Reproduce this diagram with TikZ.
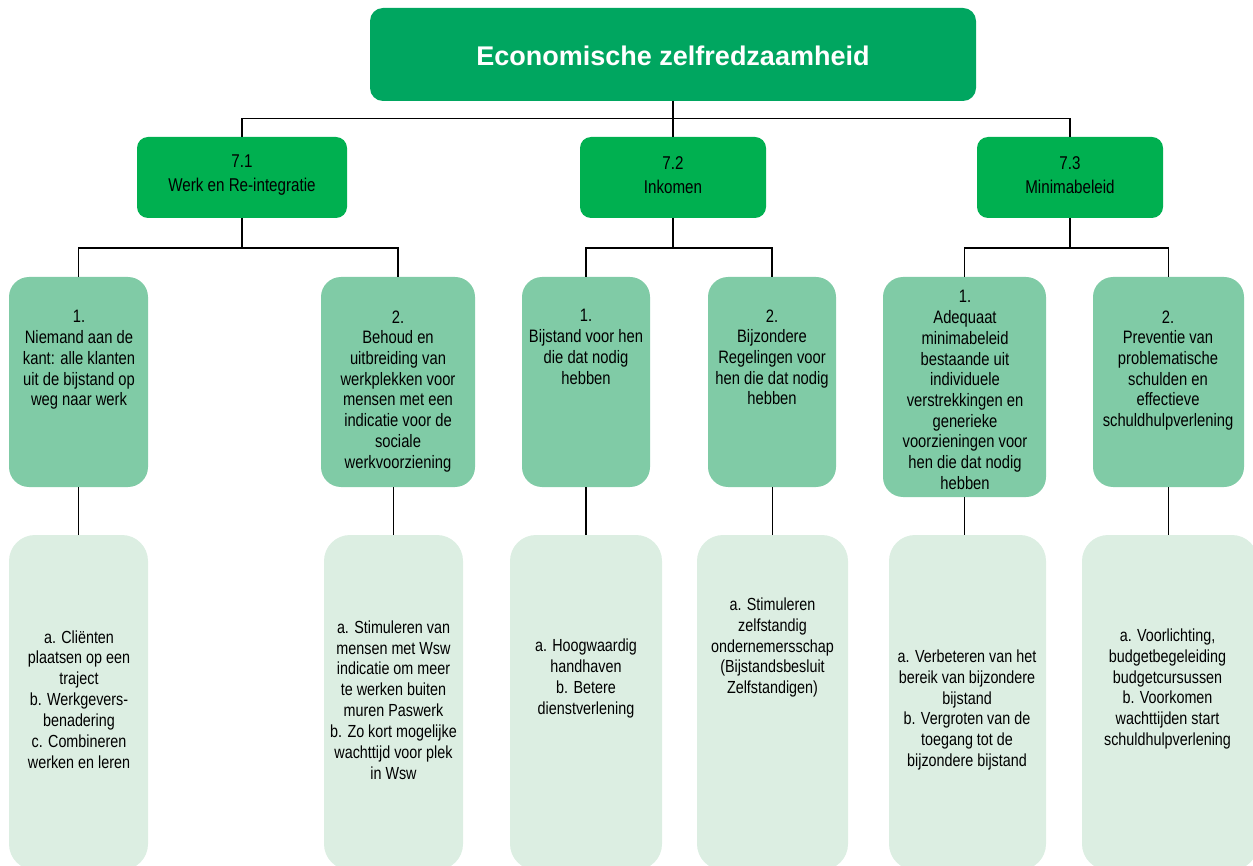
\documentclass[tikz,border=0pt]{standalone}
\usepackage{fontspec}
\setmainfont{Liberation Sans}
\newfontfamily\narrowfont{Liberation Sans}[FakeStretch=0.82]
\definecolor{topgreen}{RGB}{0,166,96}
\definecolor{midgreen}{RGB}{0,176,80}
\definecolor{lightgreen}{RGB}{128,203,166}
\definecolor{palegreen}{RGB}{220,238,226}
\begin{document}
\begin{tikzpicture}[x=1pt,y=-1pt,line width=1.2pt,
  boxbase/.style={inner sep=0pt,outer sep=0pt,draw=none},
  topbox/.style={boxbase,fill=topgreen,rounded corners=13pt,minimum width=606pt,minimum height=93pt},
  lvltwo/.style={boxbase,fill=midgreen,rounded corners=11pt,minimum height=81pt},
  lvlthree/.style={boxbase,fill=lightgreen,rounded corners=20pt},
  lvlfour/.style={boxbase,fill=palegreen,rounded corners=26pt,minimum height=335pt},
  titletext/.style={inner sep=0pt,text=white,font=\bfseries\fontsize{27}{30}\selectfont},
  twotext/.style={inner sep=0pt,align=center,font=\narrowfont\fontsize{18.5}{24}\selectfont},
  threetext/.style={inner sep=0pt,align=center,anchor=north,font=\narrowfont\fontsize{18}{20.7}\selectfont},
  fourtext/.style={inner sep=0pt,align=center,font=\narrowfont\fontsize{17.5}{20.9}\selectfont},
  conn/.style={draw=black,line width=1.2pt}]
\useasboundingbox (0,0) rectangle (1253,866);
\clip (0,0) rectangle (1253,866);
% top
\node[topbox] (top) at (673,54.5) {};
\node[titletext] (toptxt) at (673,56) {Economische zelfredzaamheid};
% level 2
\node[lvltwo,minimum width=210pt] (a1) at (242,177.5) {};
\node[lvltwo,minimum width=186pt] (a2) at (673,177.5) {};
\node[lvltwo,minimum width=186pt] (a3) at (1070,177.5) {};
\node[twotext] (a1t) at (242,175) {7.1\\Werk en Re-integratie};
\node[twotext] (a2t) at (673,175) {7.2\\Inkomen};
\node[twotext] (a3t) at (1070,175) {7.3\\Minimabeleid};
% level 3
\node[lvlthree,minimum width=139pt,minimum height=210pt] (b1) at (78.5,382) {};
\node[lvlthree,minimum width=154pt,minimum height=210pt] (b2) at (398,382) {};
\node[lvlthree,minimum width=128pt,minimum height=210pt] (b3) at (586,382) {};
\node[lvlthree,minimum width=128pt,minimum height=210pt] (b4) at (772,382) {};
\node[lvlthree,minimum width=163pt,minimum height=220pt] (b5) at (964.5,387) {};
\node[lvlthree,minimum width=151pt,minimum height=210pt] (b6) at (1168.5,382) {};
\node[threetext] (b1t) at (79,310) {1.\\Niemand aan de\\kant: alle klanten\\uit de bijstand op\\weg naar werk};
\node[threetext] (b2t) at (398,310) {2.\\Behoud en\\uitbreiding van\\werkplekken voor\\mensen met een\\indicatie voor de\\sociale\\werkvoorziening};
\node[threetext] (b3t) at (586,309) {1.\\Bijstand voor hen\\die dat nodig\\hebben};
\node[threetext] (b4t) at (772,309) {2.\\Bijzondere\\Regelingen voor\\hen die dat nodig\\hebben};
\node[threetext] (b5t) at (965,290) {1.\\Adequaat\\minimabeleid\\bestaande uit\\individuele\\verstrekkingen en\\generieke\\voorzieningen voor\\hen die dat nodig\\hebben};
\node[threetext] (b6t) at (1168,310) {2.\\Preventie van\\problematische\\schulden en\\effectieve\\schuldhulpverlening};
% level 4
\node[lvlfour,minimum width=139pt] (c1) at (78.5,702.5) {};
\node[lvlfour,minimum width=139pt] (c2) at (393.5,702.5) {};
\node[lvlfour,minimum width=152pt] (c3) at (586,702.5) {};
\node[lvlfour,minimum width=151pt] (c4) at (772.5,702.5) {};
\node[lvlfour,minimum width=157pt] (c5) at (967.5,702.5) {};
\node[lvlfour,minimum width=176pt] (c6) at (1170,702.5) {};
\node[fourtext] (c1t) at (79,699.5) {a. Cliënten\\plaatsen op een\\traject\\b. Werkgevers-\\benadering\\c. Combineren\\werken en leren};
\node[fourtext] (c2t) at (393.5,700) {a. Stimuleren van\\mensen met Wsw\\indicatie om meer\\te werken buiten\\muren Paswerk\\b. Zo kort mogelijke\\wachttijd voor plek\\in Wsw};
\node[fourtext] (c3t) at (586,678.5) {a. Hoogwaardig\\handhaven\\b. Betere\\dienstverlening};
\node[fourtext] (c4t) at (772.5,647.5) {a. Stimuleren\\zelfstandig\\ondernemersschap\\(Bijstandsbesluit\\Zelfstandigen)};
\node[fourtext] (c5t) at (967,710) {a. Verbeteren van het\\bereik van bijzondere\\bijstand\\b. Vergroten van de\\toegang tot de\\bijzondere bijstand};
\node[fourtext] (c6t) at (1167.5,689) {a. Voorlichting,\\budgetbegeleiding\\budgetcursussen\\b. Voorkomen\\wachttijden start\\schuldhulpverlening};
% connectors
\coordinate (busone) at (673,118.5);
\coordinate (bustwoa) at (242,248);
\coordinate (bustwob) at (673,248);
\coordinate (bustwoc) at (1070,248);
\draw[conn] (top.south) -- (busone);
\draw[conn] (a1.north) |- (busone) -| (a3.north);
\draw[conn] (a2.north) -- (busone);
\draw[conn] (a1.south) -- (bustwoa);
\draw[conn] (b1.north) |- (bustwoa) -| (b2.north);
\draw[conn] (a2.south) -- (bustwob);
\draw[conn] (b3.north) |- (bustwob) -| (b4.north);
\draw[conn] (a3.south) -- (bustwoc);
\draw[conn] (b5.north) |- (bustwoc) -| (b6.north);
\draw[conn] (c1.north) -- (c1.north |- b1.south);
\draw[conn] (c2.north) -- (c2.north |- b2.south);
\draw[conn] (c3.north) -- (c3.north |- b3.south);
\draw[conn] (c4.north) -- (c4.north |- b4.south);
\draw[conn] (b5.south) -- (b5.south |- c5.north);
\draw[conn] (b6.south) -- (b6.south |- c6.north);
\end{tikzpicture}
\end{document}
